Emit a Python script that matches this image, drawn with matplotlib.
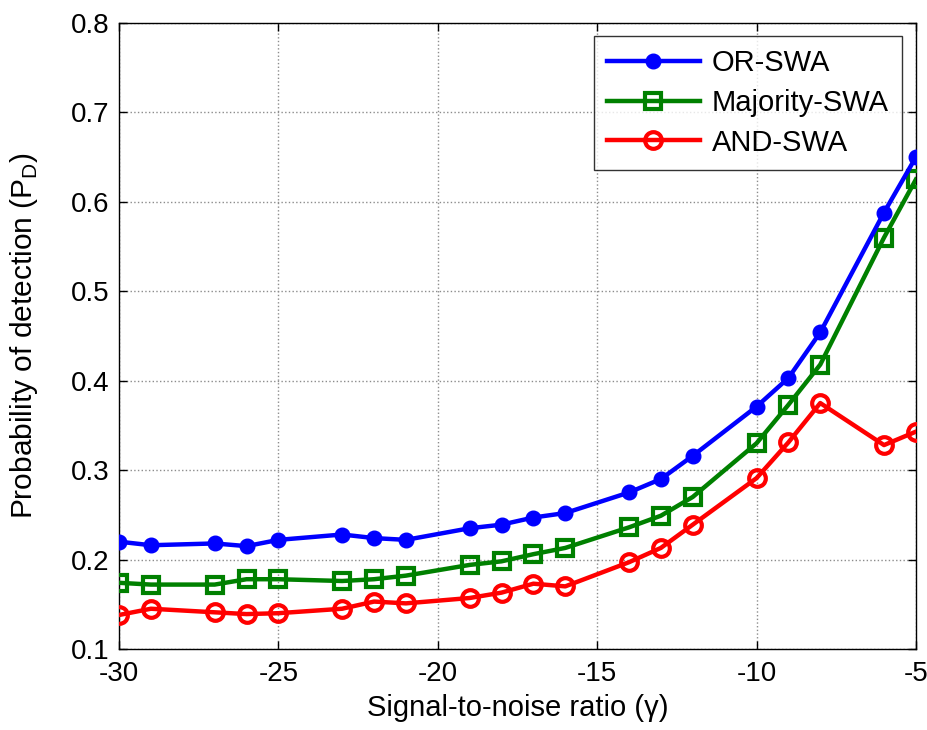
import matplotlib
matplotlib.use("Agg")
import matplotlib.pyplot as plt

plt.rcParams["font.family"] = ["Liberation Sans", "DejaVu Sans"]

# SNR sweep (dB) and detection probabilities per fusion rule
snr = [-30, -29, -27, -26, -25, -23, -22, -21, -19, -18,
       -17, -16, -14, -13, -12, -10, -9, -8, -6, -5]
pd_or = [0.220, 0.216, 0.218, 0.215, 0.222, 0.228, 0.224, 0.222, 0.235, 0.239,
         0.247, 0.252, 0.275, 0.290, 0.316, 0.371, 0.403, 0.454, 0.588, 0.650]
pd_majority = [0.174, 0.172, 0.172, 0.178, 0.178, 0.176, 0.178, 0.182, 0.194, 0.198,
               0.206, 0.213, 0.236, 0.249, 0.270, 0.330, 0.373, 0.418, 0.560, 0.625]
pd_and = [0.138, 0.145, 0.141, 0.139, 0.140, 0.145, 0.153, 0.151, 0.157, 0.163,
          0.173, 0.170, 0.197, 0.213, 0.239, 0.291, 0.331, 0.375, 0.328, 0.343]

x_ticks = [-30, -25, -20, -15, -10, -5]
y_ticks = [0.1, 0.2, 0.3, 0.4, 0.5, 0.6, 0.7, 0.8]

fig = plt.figure(figsize=(9.27, 7.30), dpi=100)
ax = fig.add_axes([0.1284, 0.111, 0.8596, 0.8575])

lw = 3.2
ax.plot(snr, pd_or, color="blue", marker="o", markersize=10.5, linewidth=lw,
        markerfacecolor="blue", markeredgecolor="blue", label="OR-SWA", zorder=5)
ax.plot(snr, pd_majority, color="green", marker="s", markersize=11, linewidth=lw,
        markerfacecolor="none", markeredgecolor="green", markeredgewidth=3,
        label="Majority-SWA", zorder=4)
ax.plot(snr, pd_and, color="red", marker="o", markersize=12, linewidth=lw,
        markerfacecolor="none", markeredgecolor="red", markeredgewidth=3,
        label="AND-SWA", zorder=3)

ax.set_xlim(-30, -5)
ax.set_ylim(0.1, 0.8)
ax.set_xticks(x_ticks)
ax.set_yticks(y_ticks)
ax.set_xticklabels([str(t) for t in x_ticks])
ax.set_yticklabels([f"{t:.1f}" for t in y_ticks])

ax.grid(True, linestyle=":", color="#8c8c8c", linewidth=1.0)
ax.tick_params(axis="both", direction="in", top=True, right=True,
               length=6, width=1, labelsize=20)
ax.tick_params(axis="x", pad=9)
ax.tick_params(axis="y", pad=7)
for spine in ax.spines.values():
    spine.set_linewidth(1.0)
    spine.set_color("black")

ax.set_xlabel("Signal-to-noise ratio (γ)", fontsize=21, labelpad=5)
ax.set_ylabel(r"Probability of detection (P$_\mathregular{D}$)", fontsize=21.5, labelpad=22)

leg = ax.legend(loc="upper right", bbox_to_anchor=(0.9824, 0.979), fontsize=21,
                frameon=True, fancybox=False, edgecolor="black",
                handlelength=3.2, borderpad=0.45, labelspacing=0.4,
                handletextpad=0.4, borderaxespad=0.0)
leg.get_frame().set_linewidth(1.0)

fig.savefig("out.png", dpi=100)
